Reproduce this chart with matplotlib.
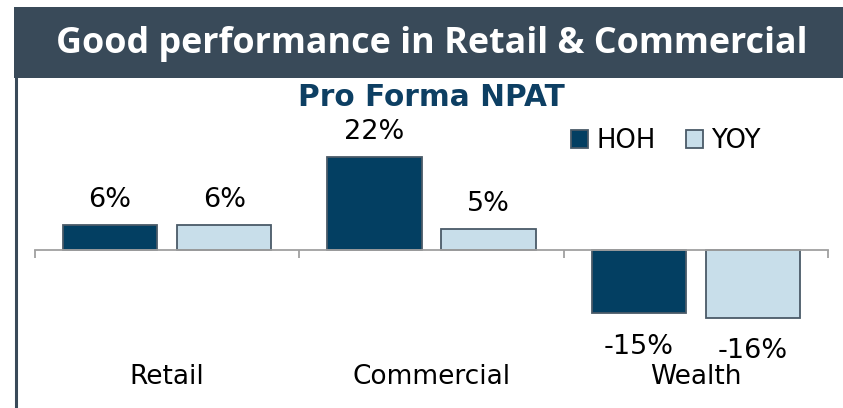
import matplotlib.pyplot as plt
from matplotlib.patches import Rectangle
from matplotlib.lines import Line2D
import numpy as np

# Data
categories = ['Retail', 'Commercial', 'Wealth']
series_names = ['HOH', 'YOY']
hoh = [6, 22, -15]
yoy = [6, 5, -16]

# Colours
color_bar = '#394a59'
color_hoh = '#033f62'
color_yoy = '#c8deea'
color_edge = '#4a5a68'
color_sub = '#0d3f63'

W, H = 843, 408
fig = plt.figure(figsize=(W / 100, H / 100), dpi=100)

# Title bar and left border
fig.patches.append(Rectangle((14 / W, 1 - 78 / H), 1 - 14 / W, 71 / H,
                             transform=fig.transFigure, facecolor=color_bar,
                             edgecolor='none', zorder=0))
fig.lines.append(Line2D([15.5 / W, 15.5 / W], [0, 1 - 78 / H],
                        transform=fig.transFigure, color=color_bar, lw=2.2))
fig.text(432 / W, 1 - 44 / H, 'Good performance in Retail & Commercial',
         ha='center', va='center', color='white', fontsize=25.8,
         fontweight='bold', family='Open Sans')
fig.text(431 / W, 1 - 98 / H, 'Pro Forma NPAT', ha='center', va='center',
         color=color_sub, fontsize=21.3, fontweight='bold', family='DejaVu Sans')

# Axes
ax = fig.add_axes([35 / W, 1 - 400 / H, 793 / W, 290 / H])
ax.set_facecolor('none')
x = np.arange(len(categories))
bw = 0.357
off = 0.216
b1 = ax.bar(x - off, hoh, bw, color=color_hoh, edgecolor=color_edge, lw=1.3,
            label=series_names[0])
b2 = ax.bar(x + off, yoy, bw, color=color_yoy, edgecolor=color_edge, lw=1.3,
            label=series_names[1])
ax.set_xlim(-0.5, len(categories) - 0.5)
ax.set_ylim(-35.46, 33.1)

for s in ['top', 'left', 'right']:
    ax.spines[s].set_visible(False)
ax.spines['bottom'].set_position(('data', 0))
ax.spines['bottom'].set_color('#a0a0a0')
ax.spines['bottom'].set_linewidth(1.3)
ax.set_yticks([])
ax.set_xticks(x)
ax.set_xticklabels([])
ax.tick_params(axis='x', which='major', length=0)
ax.set_xticks(np.arange(len(categories) + 1) - 0.5, minor=True)
ax.tick_params(axis='x', which='minor', length=5.8, width=1.3,
               color='#a0a0a0', direction='out')

# Value labels
for bars, vals in [(b1, hoh), (b2, yoy)]:
    for rect, v in zip(bars, vals):
        cx = rect.get_x() + rect.get_width() / 2
        dy = 18 if v >= 0 else -24
        ax.annotate(f'{v}%', (cx, v), xytext=(0, dy), textcoords='offset points',
                    ha='center', va='center', fontsize=19.5, color='black')

# Category labels
for xi, name in zip(x, categories):
    ax.text(xi, 0.078, name, transform=ax.get_xaxis_transform(),
            ha='center', va='center', fontsize=19, color='black')

# Legend
ax.legend(loc='center', bbox_to_anchor=(666 / W, 1 - 141 / H),
          bbox_transform=fig.transFigure, ncol=2, frameon=False, fontsize=18.6,
          handlelength=0.66, handleheight=0.66, handletextpad=0.3,
          columnspacing=1.2, borderpad=0, borderaxespad=0)

plt.savefig('out.png', dpi=100)
